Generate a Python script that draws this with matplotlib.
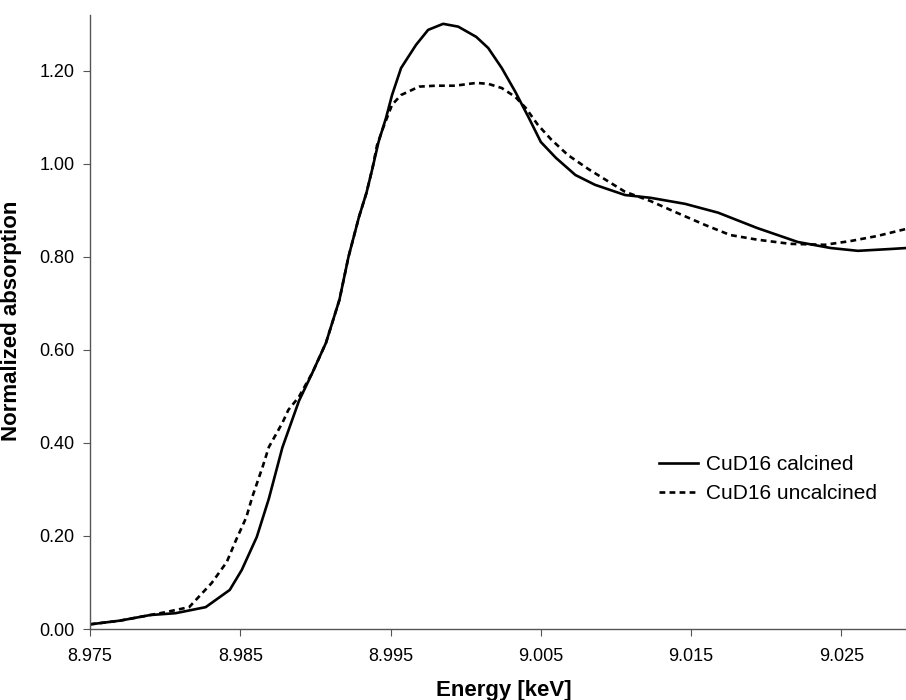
import matplotlib
matplotlib.use("Agg")
import matplotlib.pyplot as plt

plt.rcParams['font.family'] = ['Liberation Sans', 'DejaVu Sans']

# Cu K-edge XANES, energy in keV
energy_calcined = [8.9750, 8.9770, 8.9790, 8.9807, 8.9827, 8.9843, 8.9851, 8.9861,
                   8.9869, 8.9878, 8.9889, 8.9898, 8.9907, 8.9916, 8.9922, 8.9929,
                   8.9934, 8.9938, 8.9942, 8.9947, 8.9951, 8.9957, 8.9967, 8.9975,
                   8.9985, 8.9995, 9.0007, 9.0015, 9.0024, 9.0033, 9.0042, 9.0050,
                   9.0060, 9.0073, 9.0086, 9.0106, 9.0123, 9.0146, 9.0168, 9.0194,
                   9.0221, 9.0243, 9.0261, 9.0283, 9.0293]
absorption_calcined = [0.010, 0.018, 0.030, 0.034, 0.047, 0.084, 0.127, 0.198,
                       0.280, 0.390, 0.490, 0.551, 0.615, 0.708, 0.800, 0.886,
                       0.938, 0.991, 1.047, 1.099, 1.148, 1.206, 1.256, 1.288,
                       1.301, 1.295, 1.273, 1.249, 1.206, 1.155, 1.099, 1.047,
                       1.013, 0.976, 0.955, 0.933, 0.927, 0.914, 0.895, 0.862,
                       0.832, 0.819, 0.813, 0.817, 0.819]

energy_uncalcined = [8.9750, 8.9770, 8.9790, 8.9800, 8.9816, 8.9831, 8.9841, 8.9847,
                     8.9854, 8.9858, 8.9865, 8.9869, 8.9878, 8.9882, 8.9889, 8.9898,
                     8.9907, 8.9916, 8.9922, 8.9929, 8.9934, 8.9938, 8.9941, 8.9945,
                     8.9951, 8.9957, 8.9969, 8.9980, 8.9993, 9.0007, 9.0015, 9.0024,
                     9.0033, 9.0040, 9.0048, 9.0057, 9.0068, 9.0082, 9.0106, 9.0123,
                     9.0139, 9.0159, 9.0176, 9.0194, 9.0216, 9.0239, 9.0256, 9.0274,
                     9.0293]
absorption_uncalcined = [0.010, 0.018, 0.030, 0.036, 0.047, 0.099, 0.144, 0.190,
                         0.240, 0.284, 0.350, 0.391, 0.443, 0.471, 0.499, 0.551,
                         0.615, 0.708, 0.800, 0.886, 0.938, 0.991, 1.040, 1.077,
                         1.127, 1.148, 1.166, 1.168, 1.168, 1.174, 1.172, 1.163,
                         1.144, 1.120, 1.084, 1.052, 1.019, 0.988, 0.940, 0.920,
                         0.897, 0.869, 0.847, 0.837, 0.828, 0.826, 0.834, 0.845,
                         0.860]

x_ticks = [8.975, 8.985, 8.995, 9.005, 9.015, 9.025]
y_ticks = [0.0, 0.2, 0.4, 0.6, 0.8, 1.0, 1.2]

W, H = 906, 700
fig = plt.figure(figsize=(W / 100, H / 100), dpi=100)
ax = fig.add_axes([90 / W, 1 - 629 / H, (W - 90) / W, (629 - 15) / H])

ax.plot(energy_calcined, absorption_calcined, color='black', lw=1.9,
        solid_joinstyle='round', label='CuD16 calcined')
ax.plot(energy_uncalcined, absorption_uncalcined, color='black', lw=1.9,
        dashes=(2.2, 1.6), dash_joinstyle='round', label='CuD16 uncalcined')

ax.set_xlim(8.975, 9.0293)
ax.set_ylim(0, 1.32)
ax.set_xticks(x_ticks)
ax.set_xticklabels([f"{v:.3f}" for v in x_ticks])
ax.set_yticks(y_ticks)
ax.set_yticklabels([f"{v:.2f}" for v in y_ticks])

for s in ('top', 'right'):
    ax.spines[s].set_visible(False)
for s in ('left', 'bottom'):
    ax.spines[s].set_color('#555555')
    ax.spines[s].set_linewidth(1.0)

ax.tick_params(axis='both', direction='out', length=5, width=0.8,
               color='#555555', labelsize=13, labelcolor='black')
ax.tick_params(axis='x', pad=9)
ax.tick_params(axis='y', pad=6)

ax.set_xlabel('Energy [keV]', fontsize=16, fontweight='bold')
ax.set_ylabel('Normalized absorption', fontsize=16, fontweight='bold')
ax.xaxis.set_label_coords((504 - 90) / (W - 90), -(680 - 629) / (629 - 15))
ax.yaxis.set_label_coords(-(90 - 22) / (W - 90), (629 - 321) / (629 - 15))

leg = ax.legend(loc='upper left', bbox_to_anchor=((659 - 90) / (W - 90), (629 - 455) / (629 - 15)),
                frameon=False, fontsize=15, handlelength=1.85, handletextpad=0.4,
                labelspacing=0.5, borderaxespad=0, borderpad=0)

fig.savefig('out.png', dpi=100)
